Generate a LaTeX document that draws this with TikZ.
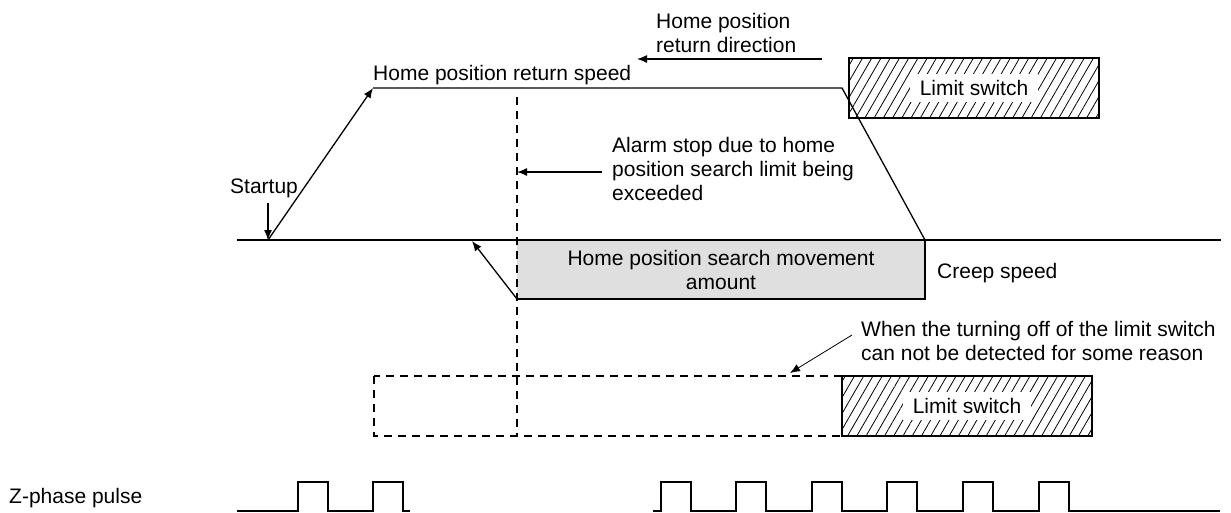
\documentclass[tikz,border=0pt]{standalone}
\usepackage{fontspec}
\setmainfont{Liberation Sans}
\usetikzlibrary{arrows.meta,patterns.meta}
\begin{document}
\begin{tikzpicture}[x=1pt,y=-1pt,
  font=\fontsize{21}{24}\selectfont,
  prof/.style={line width=1.3pt, line join=miter},
  baseln/.style={line width=2pt},
  arr/.style={-{Latex[length=10pt,width=8pt]}},
  thinarr/.style={line width=0.8pt,-{Latex[length=10pt,width=8pt]}},
  dashline/.style={line width=1.2pt, dash pattern=on 8pt off 6pt},
  txt/.style={inner sep=0pt, align=left},
  lsbox/.style={draw, line width=1.3pt, minimum width=250pt, minimum height=60pt, inner sep=0pt,
    pattern={Lines[angle=60,distance=8pt,line width=0.8pt]}},
  lslbl/.style={fill=white, inner xsep=10pt, inner ysep=6pt},
  pulse/.style={line width=1.6pt, line join=miter},
  graybox/.style={fill=gray!25}]
\useasboundingbox (0,0) rectangle (1231,512);

% key points of the speed profile
\coordinate (b0) at (237,240);
\coordinate (b1) at (1221,240);
\coordinate (s0) at (268,240);
\coordinate (s1) at (373,88);
\coordinate (s2) at (842,88);
\coordinate (s3) at (925,240);
\coordinate (c0) at (517,299);
\coordinate (c1) at (925,299);
\coordinate (d0) at (472,241);
\coordinate (dv0) at (517,97);
\coordinate (dv1) at (517,436);

% gray area
\fill[graybox] (c0 |- b0) rectangle (c1);

% dashed lines
\draw[dashline] (dv0) -- (dv1);
\draw[dashline] (374,376) rectangle (842,436);

% limit switch boxes
\node[lsbox] (ls1) at (974,88) {};
\node[lslbl] (ls1l) at (ls1) {Limit switch};
\node[lsbox] (ls2) at (967,406) {};
\node[lslbl] (ls2l) at (ls2) {Limit switch};

% axis
\draw[baseln] (b0) -- (b1);

% profile
\draw[prof, arr] (s0) -- (s1);
\draw[prof] (s1) -- (s2) -- (s3);
\draw[prof, arr] (c0) -- (d0);
\draw[prof] (c0) -- (c1) -- (s3);

% texts
\node[txt, anchor=base west] (speedlbl) at (373,80) {Home position return speed};
\node[txt, anchor=north west] (dirlbl) at (656,13) {Home position\\return direction};
\node[txt, anchor=north west] (alarm) at (612,137) {Alarm stop due to home\\position search limit being\\exceeded};
\node[txt, anchor=base west] (startup) at (230,193) {Startup};
\node[txt, align=center] (search) at (721,270) {Home position search movement\\amount};
\node[txt, anchor=base west] (creep) at (937,278) {Creep speed};
\node[txt, anchor=north west] (when) at (861,321) {When the turning off of the limit switch\\can not be detected for some reason};
\node[txt, anchor=base west] (zphase) at (9,503) {Z-phase pulse};

% arrows
\draw[prof, arr] ([yshift=-5pt]startup.south -| s0) -- (s0);
\coordinate (dirTail) at (822,59);
\coordinate (dirTip) at (637,59);
\draw[prof, arr] (dirTail) -- (dirTip);
\coordinate (alarmTail) at (602,172);
\draw[prof, arr] (alarmTail) -- (alarmTail -| dv0);
\coordinate (whenTail) at (852,335);
\coordinate (whenTip) at (790,373);
\draw[thinarr] (whenTail) -- (whenTip);

% Z-phase pulses
\draw[pulse] (237,511) foreach \x in {298,373} { -- (\x,511) -- (\x,482) -- (\x+30,482) -- (\x+30,511) } -- (410,511);
\draw[pulse] (653,511) foreach \x in {661,736,812,887,963,1039} { -- (\x,511) -- (\x,482) -- (\x+30,482) -- (\x+30,511) } -- (1220,511);
\end{tikzpicture}
\end{document}
